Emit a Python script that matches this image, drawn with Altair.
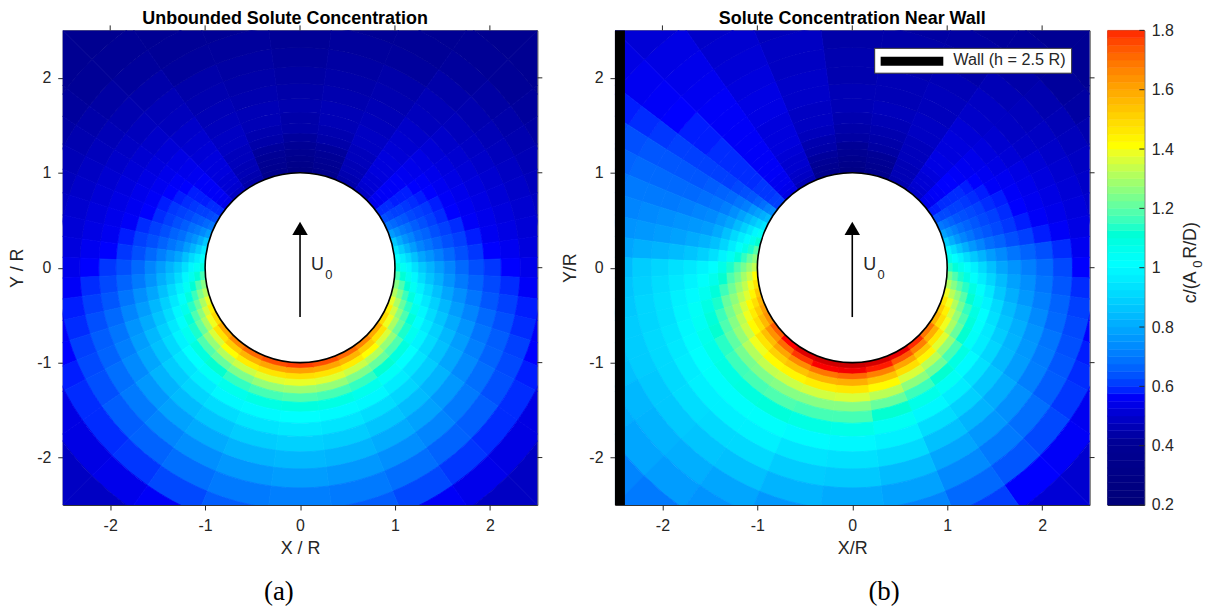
import altair as alt
import pandas as pd

FONT = "Liberation Sans"
INK = "#262626"
TICKS = [-2, -1, 0, 1, 2]
CB_TICKS = [0.2, 0.4, 0.6, 0.8, 1, 1.2, 1.4, 1.6, 1.8]
CB_STOPS = [0.2, 0.4, 0.56, 1.0, 1.4, 1.8, 1.92]
CB_COLORS = ["#00007a", "#000096", "#0000ff", "#00ffff", "#ffff00", "#ff0000", "#c00000"]
CB_LEVELS = [0.2 + i * 0.025 for i in range(64)]

RING_EDGES = [1.0, 1.06, 1.12, 1.18, 1.25, 1.33, 1.42, 1.52, 1.64, 1.78, 1.94, 2.12, 2.32, 2.55, 2.8, 3.1, 3.6]
ANGLES = [0, 15, 30, 40, 50, 55, 60, 65, 70, 75, 80, 85, 90, 95, 100, 105, 110, 115, 120, 130, 140, 150, 165, 180]

A_HALF = [
    [.29,.31,.33,.36,.39,.41,.43,.43,.44,.43,.42,.41,.40,.39,.38,.36],
    [.33,.35,.37,.39,.41,.43,.44,.45,.45,.44,.43,.42,.41,.39,.38,.36],
    [.43,.44,.45,.45,.46,.46,.47,.47,.46,.45,.44,.43,.41,.40,.38,.36],
    [.47,.49,.50,.50,.51,.51,.51,.50,.49,.48,.46,.45,.43,.41,.39,.36],
    [.53,.54,.55,.55,.55,.55,.54,.53,.52,.50,.48,.46,.44,.42,.40,.37],
    [.58,.58,.58,.57,.57,.57,.56,.55,.53,.51,.49,.47,.45,.43,.41,.38],
    [.62,.61,.60,.60,.59,.58,.57,.56,.54,.52,.50,.48,.46,.44,.42,.38],
    [.68,.66,.64,.63,.61,.60,.59,.57,.55,.53,.51,.49,.47,.45,.43,.39],
    [.76,.72,.69,.67,.64,.62,.60,.58,.56,.54,.52,.50,.48,.46,.44,.40],
    [.86,.79,.74,.71,.67,.65,.62,.60,.58,.55,.53,.51,.49,.47,.45,.41],
    [.94,.87,.81,.76,.71,.68,.65,.62,.60,.57,.54,.52,.50,.48,.46,.42],
    [1.01,.95,.90,.84,.78,.74,.70,.66,.62,.59,.56,.54,.51,.49,.47,.43],
    [1.08,1.03,.98,.92,.86,.81,.76,.71,.66,.62,.59,.56,.53,.50,.48,.44],
    [1.16,1.10,1.04,.98,.91,.85,.80,.74,.69,.65,.61,.58,.55,.52,.49,.45],
    [1.24,1.17,1.10,1.03,.96,.90,.84,.78,.73,.68,.63,.60,.57,.53,.50,.45],
    [1.30,1.23,1.15,1.08,1.01,.94,.88,.82,.76,.71,.66,.62,.58,.55,.51,.46],
    [1.37,1.29,1.20,1.13,1.05,.98,.91,.85,.79,.74,.68,.64,.60,.56,.52,.46],
    [1.43,1.34,1.25,1.17,1.09,1.01,.94,.88,.82,.76,.70,.65,.61,.57,.52,.47],
    [1.48,1.38,1.29,1.20,1.12,1.04,.97,.90,.84,.78,.72,.67,.62,.58,.52,.47],
    [1.58,1.46,1.35,1.26,1.17,1.08,1.00,.93,.87,.81,.75,.69,.64,.58,.52,.47],
    [1.65,1.51,1.40,1.30,1.20,1.11,1.02,.95,.89,.83,.77,.71,.65,.59,.53,.47],
    [1.70,1.56,1.44,1.33,1.23,1.14,1.05,.98,.91,.85,.79,.73,.67,.61,.55,.50],
    [1.74,1.59,1.46,1.36,1.26,1.16,1.07,.99,.93,.87,.81,.75,.69,.64,.59,.54],
    [1.76,1.60,1.47,1.37,1.27,1.17,1.08,1.00,.94,.88,.82,.76,.70,.65,.60,.55],
]

B_RIGHT = [
    [.28,.31,.34,.37,.40,.42,.43,.44,.45,.45,.44,.44,.43,.42,.42,.41],
    [.33,.35,.38,.40,.42,.43,.44,.45,.46,.45,.45,.44,.43,.42,.41,.40],
    [.44,.45,.45,.45,.46,.46,.46,.47,.47,.46,.46,.45,.43,.42,.41,.39],
    [.48,.49,.50,.50,.51,.52,.52,.51,.51,.50,.48,.47,.45,.43,.41,.38],
    [.53,.54,.55,.55,.56,.56,.55,.54,.53,.51,.49,.47,.46,.44,.41,.38],
    [.57,.57,.58,.58,.58,.58,.57,.56,.54,.52,.50,.48,.47,.45,.42,.39],
    [.62,.61,.61,.60,.60,.59,.58,.57,.55,.54,.52,.50,.48,.46,.44,.40],
    [.69,.67,.65,.63,.62,.61,.60,.58,.57,.55,.53,.51,.49,.47,.45,.41],
    [.77,.73,.70,.67,.65,.63,.61,.60,.58,.56,.54,.52,.50,.48,.46,.43],
    [.87,.80,.75,.71,.68,.65,.63,.61,.59,.57,.55,.53,.51,.49,.47,.44],
    [.97,.91,.85,.80,.75,.71,.67,.65,.62,.60,.57,.55,.52,.50,.48,.45],
    [1.05,1.00,.96,.91,.86,.81,.76,.72,.68,.65,.62,.58,.54,.51,.49,.46],
    [1.13,1.09,1.05,1.01,.96,.90,.84,.78,.74,.70,.66,.61,.56,.52,.49,.46],
    [1.23,1.17,1.12,1.07,1.01,.95,.89,.83,.77,.73,.68,.63,.58,.54,.50,.47],
    [1.30,1.24,1.18,1.13,1.07,1.01,.94,.86,.80,.75,.70,.65,.60,.55,.51,.48],
    [1.38,1.31,1.25,1.18,1.11,1.04,.97,.90,.83,.78,.72,.66,.61,.56,.52,.48],
    [1.45,1.38,1.30,1.22,1.14,1.07,1.00,.92,.85,.80,.74,.68,.62,.57,.53,.48],
    [1.51,1.43,1.34,1.26,1.17,1.09,1.01,.94,.87,.81,.75,.69,.63,.58,.54,.49],
    [1.56,1.47,1.38,1.29,1.20,1.11,1.02,.95,.89,.82,.76,.70,.64,.59,.54,.49],
    [1.68,1.57,1.45,1.36,1.26,1.16,1.07,.99,.92,.85,.79,.73,.67,.61,.55,.49],
    [1.78,1.66,1.52,1.42,1.31,1.21,1.11,1.03,.95,.88,.81,.75,.69,.63,.56,.50],
    [1.84,1.73,1.59,1.47,1.35,1.25,1.15,1.06,.98,.91,.84,.78,.72,.66,.60,.52],
    [1.88,1.79,1.66,1.53,1.41,1.31,1.20,1.11,1.03,.96,.90,.83,.77,.71,.65,.58],
    [1.90,1.82,1.70,1.57,1.45,1.35,1.24,1.16,1.06,.98,.92,.86,.79,.72,.67,.62],
]

B_LEFT = [
    B_RIGHT[0],
    [.34,.36,.39,.41,.43,.44,.46,.47,.47,.48,.48,.47,.47,.46,.45,.44],
    [.45,.47,.48,.49,.49,.50,.51,.51,.51,.52,.52,.51,.50,.49,.48,.47],
    [.52,.53,.54,.54,.55,.55,.55,.55,.55,.55,.55,.55,.54,.53,.52,.50],
    [.60,.60,.59,.59,.59,.58,.58,.58,.58,.58,.57,.57,.56,.55,.54,.52],
    [.72,.70,.67,.65,.63,.62,.61,.60,.60,.60,.60,.60,.59,.58,.57,.55],
    [.83,.80,.77,.74,.70,.68,.66,.65,.64,.63,.63,.63,.63,.62,.61,.58],
    [.93,.89,.85,.81,.77,.73,.70,.68,.67,.66,.66,.66,.66,.65,.63,.60],
    [1.03,.98,.93,.88,.83,.78,.75,.72,.71,.70,.69,.69,.69,.68,.65,.62],
    [1.11,1.05,.99,.95,.90,.84,.79,.76,.75,.74,.73,.72,.71,.70,.68,.64],
    [1.18,1.12,1.06,1.01,.95,.89,.84,.81,.79,.77,.76,.75,.74,.73,.70,.66],
    [1.25,1.20,1.14,1.09,1.03,.97,.92,.88,.85,.83,.81,.80,.78,.76,.73,.68],
    [1.32,1.27,1.22,1.17,1.12,1.06,1.00,.97,.94,.92,.89,.87,.83,.80,.76,.70],
    [1.40,1.33,1.28,1.22,1.17,1.11,1.05,1.01,.97,.94,.91,.88,.85,.82,.78,.72],
    [1.46,1.38,1.32,1.27,1.21,1.15,1.09,1.04,.99,.96,.92,.89,.86,.83,.79,.73],
    [1.52,1.42,1.36,1.31,1.25,1.20,1.12,1.07,1.02,.97,.92,.89,.87,.85,.81,.75],
    [1.56,1.47,1.41,1.35,1.28,1.22,1.15,1.09,1.03,.98,.93,.90,.87,.85,.81,.75],
    [1.60,1.51,1.44,1.38,1.31,1.24,1.17,1.11,1.05,.99,.94,.90,.87,.84,.81,.75],
    [1.63,1.55,1.47,1.41,1.33,1.26,1.19,1.13,1.06,1.00,.95,.90,.86,.82,.80,.75],
    [1.72,1.63,1.54,1.46,1.38,1.30,1.22,1.15,1.07,1.01,.96,.91,.86,.81,.78,.71],
    [1.80,1.70,1.59,1.50,1.41,1.32,1.23,1.16,1.08,1.01,.96,.90,.85,.80,.76,.69],
    [1.86,1.77,1.64,1.53,1.42,1.33,1.24,1.17,1.09,1.01,.96,.90,.84,.78,.74,.67],
    [1.89,1.81,1.68,1.56,1.44,1.34,1.24,1.16,1.07,.99,.93,.87,.81,.75,.70,.64],
    B_RIGHT[23],
]

PLOT = 477
UNIT = PLOT / 5
SC = alt.Scale(domain=[-2.5, 2.5], nice=False, zero=False)
CS = alt.Scale(domain=CB_STOPS, range=CB_COLORS)
CB_Y = alt.Scale(domain=[0.2, 1.8], nice=False, zero=False)


def wedges(right, left):
    rows = []
    last = len(ANGLES) - 1
    for i, ang in enumerate(ANGLES):
        hi = (ang + ANGLES[i + 1]) / 2 if i < last else ang + (ang - ANGLES[i - 1]) / 2
        lo = (ang + ANGLES[i - 1]) / 2 if i > 0 else -hi
        for j in range(len(RING_EDGES) - 1):
            r0, r1 = RING_EDGES[j], RING_EDGES[j + 1]
            rows.append(dict(t0=lo, t1=hi, r0=r0, r1=r1, c=right[i][j]))
            if 0 < i < last:
                rows.append(dict(t0=360 - hi, t1=360 - lo, r0=r0, r1=r1, c=left[i][j]))
    return pd.DataFrame(rows)


def field(df):
    return alt.Chart(df).mark_arc(clip=True, strokeWidth=0.8).encode(
        theta=alt.Theta("t0:Q", stack=None, scale=alt.Scale(domain=[0, 360], range=[0, 6.283185307])),
        theta2="t1:Q",
        radius=alt.Radius("r0:Q", scale=alt.Scale(type="linear", domain=[0, 3.6], range=[0, 3.6 * UNIT], zero=True)),
        radius2="r1:Q",
        fill=alt.Fill("c:Q", scale=CS, legend=None),
        stroke=alt.Stroke("c:Q", scale=CS, legend=None),
    )


def panel(df, title, title_dx, xlabel, ylabel, tag, tag_x, has_wall, ytp):
    ax_x = alt.Axis(values=TICKS, labelExpr="''+datum.value", grid=False, domain=False, tickSize=5,
                    labelPadding=8, titlePadding=6, titleFontWeight="normal")
    ax_y = alt.Axis(values=TICKS, labelExpr="''+datum.value", grid=False, domain=False, tickSize=5,
                    labelPadding=7, titlePadding=ytp, titleFontWeight="normal")

    def X(f="x:Q"):
        return alt.X(f, scale=SC, axis=ax_x, title=xlabel)

    def Y(f="y:Q"):
        return alt.Y(f, scale=SC, axis=ax_y, title=ylabel)

    def label(text, x, y, size=16, font=FONT, color=INK):
        return alt.Chart(pd.DataFrame({"x": [x], "y": [y]})).mark_text(
            text=text, font=font, fontSize=size, color=color, align="left", baseline="middle"
        ).encode(x=X(), y=Y())

    t = pd.DataFrame({"v": TICKS})
    top = alt.Chart(t).mark_rule(color=INK, strokeWidth=1).encode(
        x=X("v:Q"), y=alt.value(-5), y2=alt.value(0))
    right = alt.Chart(t).mark_rule(color=INK, strokeWidth=1).encode(
        y=Y("v:Q"), x=alt.value(PLOT), x2=alt.value(PLOT + 5))
    circle = alt.Chart(pd.DataFrame({"x": [0], "y": [0]})).mark_point(
        filled=False, fill="white", fillOpacity=1, stroke="black", strokeWidth=1.6, opacity=1,
        size=(2 * UNIT) ** 2).encode(x=X(), y=Y())
    shaft = alt.Chart(pd.DataFrame({"x": [0], "y": [-0.52], "y2": [0.36]})).mark_rule(
        color="black", strokeWidth=1.6).encode(x=X(), y=Y(), y2="y2:Q")
    head = alt.Chart(pd.DataFrame({"x": [0], "y": [0.415]})).mark_point(
        shape="triangle-up", filled=True, color="black", opacity=1, size=240).encode(x=X(), y=Y())
    layers = [field(df)]
    if has_wall:
        layers += [
            alt.Chart(pd.DataFrame({"x": [-2.5], "x2": [-2.395], "y": [-2.5], "y2": [2.5]})).mark_rect(
                color="black").encode(x=X(), x2="x2:Q", y=Y(), y2="y2:Q"),
            alt.Chart(pd.DataFrame({"x": [0.236], "x2": [2.311], "y": [2.049], "y2": [2.311]})).mark_rect(
                fill="white", stroke="#333333", strokeWidth=1).encode(x=X(), x2="x2:Q", y=Y(), y2="y2:Q"),
            alt.Chart(pd.DataFrame({"x": [0.299], "x2": [0.959], "y": [2.175]})).mark_rule(
                color="black", strokeWidth=9).encode(x=X(), x2="x2:Q", y=Y()),
            label("Wall (h = 2.5 R)", 1.064, 2.19, 16.3),
        ]
    layers += [top, right, circle, shaft, head,
               label("U", 0.115, 0.03, 18), label("0", 0.265, -0.075, 13),
               label(tag, tag_x, -3.42, 27, font="Liberation Serif", color="black")]
    return alt.layer(*layers).properties(
        width=PLOT, height=PLOT,
        title=alt.TitleParams(title, fontSize=18, fontWeight="bold", font=FONT, color="black",
                              anchor="middle", dx=title_dx, offset=-3),
    )


left_chart = panel(wedges(A_HALF, A_HALF), "Unbounded Solute Concentration", -15,
                   "X / R", "Y / R", "(a)", -0.38, False, 10)
right_chart = panel(wedges(B_RIGHT, B_LEFT), "Solute Concentration Near Wall", 0,
                    "X/R", "Y/R", "(b)", 0.17, True, 9)

# colour bar
cb_df = pd.DataFrame({"c": CB_LEVELS, "c2": [v + 0.025 for v in CB_LEVELS]})
cb_ax = alt.Axis(orient="right", values=CB_TICKS, labelExpr="''+datum.value", grid=False, domain=False,
                 tickSize=0, labelPadding=7)


def CBY(f="c:Q"):
    return alt.Y(f, scale=CB_Y, title=None, axis=cb_ax)


cb_rect = alt.Chart(cb_df).mark_rect(strokeWidth=0.5).encode(
    y=CBY(), y2="c2:Q",
    fill=alt.Fill("c:Q", scale=CS, legend=None),
    stroke=alt.Stroke("c:Q", scale=CS, legend=None),
)
cb_ticks = alt.Chart(pd.DataFrame({"c": CB_TICKS})).mark_rule(color=INK, strokeWidth=1).encode(
    y=CBY(), x=alt.value(32), x2=alt.value(37))


def cb_text(text, y, dx, size):
    return alt.Chart(pd.DataFrame({"c": [y]})).mark_text(
        text=text, font=FONT, fontSize=size, color=INK, align="left", baseline="middle", angle=270
    ).encode(y=CBY(), x=alt.value(dx))


colorbar = alt.layer(cb_rect, cb_ticks, cb_text("c/(A", 0.88, 84, 18), cb_text("0", 1.0, 91, 13),
                     cb_text("R/D)", 1.03, 84, 18)).properties(width=37, height=PLOT)

chart = alt.hconcat(alt.hconcat(left_chart, right_chart, spacing=18), colorbar, spacing=11).properties(
    padding={"left": 0, "top": 0, "right": 0, "bottom": 0}
).configure_view(stroke="#333333", strokeWidth=1).configure_axis(
    labelFont=FONT, labelFontSize=16, labelColor=INK, titleFont=FONT, titleFontSize=18,
    titleColor=INK, tickColor=INK, tickWidth=1,
)

chart.save("out.html", embed_options={"renderer": "svg", "actions": False})
